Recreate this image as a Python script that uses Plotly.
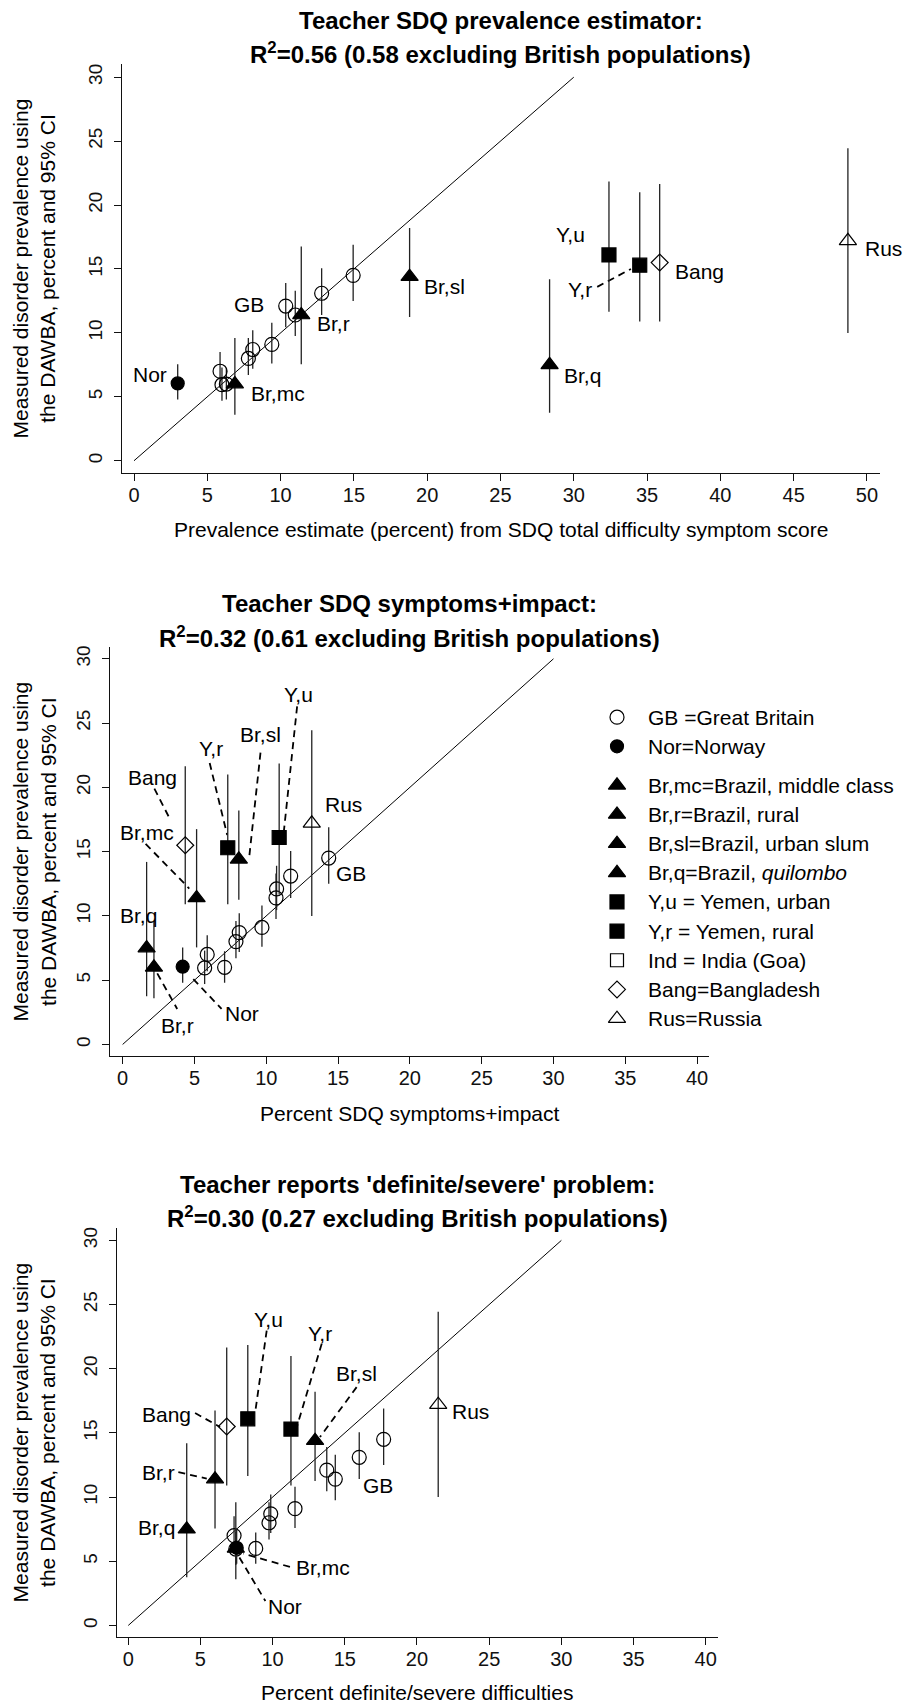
import plotly.graph_objects as go

W, H = 911, 1705
FONT = "Liberation Sans, Arial, Helvetica, sans-serif"

# ---------------- data ----------------
# Non-British populations (same DAWBA prevalence in every panel)
pops = ["Nor", "Br,mc", "Br,r", "Br,sl", "Br,q", "Y,u", "Y,r", "Bang", "Rus"]
pop_y = [6.05, 6.0, 11.4, 14.4, 7.5, 16.1, 15.3, 15.5, 17.2]
pop_lo = [4.8, 3.6, 7.55, 11.25, 3.75, 11.65, 10.9, 10.9, 10.0]
pop_hi = [7.55, 9.6, 16.75, 18.2, 14.2, 21.85, 21.0, 21.65, 24.45]

# British populations
gb_y = [5.95, 6.0, 7.0, 8.0, 8.7, 9.1, 11.4, 12.1, 13.1, 14.5]
gb_lo = [4.7, 4.8, 5.7, 6.7, 7.2, 7.6, 9.75, 10.45, 11.4, 12.5]
gb_hi = [7.3, 7.25, 8.5, 9.6, 10.2, 10.8, 13.3, 13.9, 15.05, 16.9]

# x values per panel
p1_pop_x = [2.98, 6.88, 11.41, 18.8, 28.35, 32.4, 34.5, 35.86, 48.7]
p2_pop_x = [4.18, 2.18, 5.15, 8.09, 1.67, 10.9, 7.32, 4.36, 13.17]
p3_pop_x = [7.51, 7.45, 6.01, 12.94, 4.05, 8.28, 11.27, 6.82, 21.47]
p1_gb_x = [6.0, 6.3, 5.87, 7.8, 8.1, 9.4, 11.0, 10.35, 12.8, 14.95]
p2_gb_x = [5.71, 7.1, 5.89, 7.89, 8.12, 9.7, 10.68, 10.72, 11.7, 14.35]
p3_gb_x = [7.45, 8.83, 7.33, 9.75, 9.87, 11.55, 14.34, 13.75, 16.0, 17.69]

diag = [0, 30]

p1_ticks = [0, 5, 10, 15, 20, 25, 30, 35, 40, 45, 50]
p23_ticks = [0, 5, 10, 15, 20, 25, 30, 35, 40]
y_ticks = [0, 5, 10, 15, 20, 25, 30]

titles1 = ["Teacher SDQ prevalence estimator:",
           "Teacher SDQ symptoms+impact:",
           "Teacher reports 'definite/severe' problem:"]
titles2 = ["R<sup>2</sup>=0.56 (0.58 excluding British populations)",
           "R<sup>2</sup>=0.32 (0.61 excluding British populations)",
           "R<sup>2</sup>=0.30 (0.27 excluding British populations)"]
xtitles = ["Prevalence estimate (percent) from SDQ total difficulty symptom score",
           "Percent SDQ symptoms+impact",
           "Percent definite/severe difficulties"]
ytitle = "Measured disorder prevalence using<br>the DAWBA, percent and 95% CI"

# point labels: (text, x, y, anchor)
p1_labels = [("GB", 7.87, 12.24, "center"), ("Br,r", 13.6, 10.75, "center"),
             ("Br,sl", 21.15, 13.6, "center"), ("Nor", 1.11, 6.77, "center"),
             ("Br,mc", 9.82, 5.28, "center"), ("Y,u", 29.8, 17.66, "center"),
             ("Y,r", 30.4, 13.4, "center"), ("Bang", 38.6, 14.8, "center"),
             ("Br,q", 30.6, 6.66, "center"), ("Rus", 49.7, 16.6, "left")]
p2_labels = [("Bang", 2.09, 20.8, "center"), ("Br,mc", 1.68, 16.5, "center"),
             ("Br,q", 1.11, 10.0, "center"), ("Y,r", 6.15, 23.0, "center"),
             ("Br,sl", 9.63, 24.1, "center"), ("Y,u", 12.23, 27.2, "center"),
             ("Rus", 15.4, 18.7, "center"), ("GB", 15.9, 13.3, "center"),
             ("Nor", 8.33, 2.41, "center"), ("Br,r", 3.8, 1.51, "center")]
p3_labels = [("Y,u", 9.7, 23.8, "center"), ("Y,r", 13.28, 22.77, "center"),
             ("Br,sl", 15.82, 19.6, "center"), ("Bang", 2.62, 16.42, "center"),
             ("Br,r", 2.08, 11.95, "center"), ("Br,q", 1.97, 7.67, "center"),
             ("GB", 17.28, 10.92, "center"), ("Br,mc", 13.47, 4.51, "center"),
             ("Nor", 10.86, 1.46, "center"), ("Rus", 23.73, 16.68, "center")]

# dashed leader lines: (x0, y0, x1, y1)
p1_leaders = [(31.6, 13.6, 33.9, 15.0)]
p2_leaders = [(2.21, 19.9, 3.22, 17.7), (1.6, 15.6, 4.64, 12.13),
              (6.06, 21.9, 7.28, 16.3), (9.6, 22.7, 8.82, 14.64),
              (12.15, 26.3, 11.2, 16.3), (4.92, 5.09, 6.89, 2.76),
              (2.41, 5.53, 3.8, 2.76)]
p3_leaders = [(9.59, 22.98, 8.78, 16.5), (13.4, 21.95, 11.67, 15.45),
              (15.82, 18.57, 13.28, 14.68), (4.63, 16.55, 6.36, 15.46),
              (3.47, 11.95, 5.44, 11.44), (11.2, 4.56, 7.97, 5.6),
              (7.7, 5.3, 9.5, 1.9)]

legend_text = ["GB =Great Britain", "Nor=Norway", "Br,mc=Brazil, middle class",
               "Br,r=Brazil, rural", "Br,sl=Brazil, urban slum",
               "Br,q=Brazil, <i>quilombo</i>", "Y,u = Yemen, urban",
               "Y,r = Yemen, rural", "Ind = India (Goa)", "Bang=Bangladesh",
               "Rus=Russia"]

# ---------------- styles / layout geometry ----------------
pop_symbol = ["circle", "triangle-up", "triangle-up", "triangle-up", "triangle-up",
              "square", "square", "diamond-open", "triangle-up-open"]
pop_size = [13, 15, 15, 15, 15, 14, 14, 13, 15]
legend_symbol = ["circle-open", "circle", "triangle-up", "triangle-up", "triangle-up",
                 "triangle-up", "square", "square", "square-open", "diamond-open",
                 "triangle-up-open"]
legend_size = [14, 13, 15, 15, 15, 15, 14, 14, 13, 13, 15]

# panel plot regions in pixels (left, right, top, bottom) and axis ranges
panels = [
    dict(l=121.7, r=880.0, t=61.7, b=471.7, xr=[-0.84, 50.89], yr=[-0.97, 31.06],
         ticks=p1_ticks, gbx=p1_gb_x, px=p1_pop_x, labels=p1_labels,
         leaders=p1_leaders, xt_off=56),
    dict(l=110.0, r=709.0, t=646.0, b=1055.0, xr=[-0.88, 40.83], yr=[-0.88, 30.9],
         ticks=p23_ticks, gbx=p2_gb_x, px=p2_pop_x, labels=p2_labels,
         leaders=p2_leaders, xt_off=58),
    dict(l=116.7, r=718.0, t=1227.0, b=1637.3, xr=[-0.8, 40.85], yr=[-0.93, 31.0],
         ticks=p23_ticks, gbx=p3_gb_x, px=p3_pop_x, labels=p3_labels,
         leaders=p3_leaders, xt_off=55),
]

def px(x):
    return x / W

def py(y):
    return 1 - y / H

fig = go.Figure()
annotations = []
layout_axes = {}

for i, p in enumerate(panels):
    n = i + 1
    xa = "x" if n == 1 else f"x{n}"
    ya = "y" if n == 1 else f"y{n}"
    xkey = "xaxis" if n == 1 else f"xaxis{n}"
    ykey = "yaxis" if n == 1 else f"yaxis{n}"
    layout_axes[xkey] = dict(
        domain=[px(p["l"]), px(p["r"])], range=p["xr"], anchor=ya,
        showline=True, linecolor="#111", linewidth=1, mirror=False,
        ticks="outside", ticklen=7, tickwidth=1, tickcolor="#111",
        tickvals=p["ticks"], showgrid=False, zeroline=False, ticklabelstandoff=-3,
        tickfont=dict(family=FONT, size=20, color="#111"), fixedrange=True)
    layout_axes[ykey] = dict(
        domain=[py(p["b"]), py(p["t"])], range=p["yr"], anchor=xa,
        showline=True, linecolor="#111", linewidth=1, mirror=False,
        ticks="outside", ticklen=7, tickwidth=1, tickcolor="#111",
        tickvals=y_ticks, tickangle=-90, showgrid=False, zeroline=False,
        ticklabelstandoff=4,
        tickfont=dict(family=FONT, size=19, color="#111"), fixedrange=True)

    # identity line
    fig.add_trace(go.Scatter(x=diag, y=diag, mode="lines", xaxis=xa, yaxis=ya,
                             line=dict(color="black", width=1), hoverinfo="skip",
                             showlegend=False))
    # leader lines
    for (x0, y0, x1, y1) in p["leaders"]:
        fig.add_trace(go.Scatter(x=[x0, x1], y=[y0, y1], mode="lines", xaxis=xa, yaxis=ya,
                                 line=dict(color="black", width=1.8, dash="7px,5px"),
                                 hoverinfo="skip", showlegend=False))
    # British populations
    fig.add_trace(go.Scatter(
        x=p["gbx"], y=gb_y, mode="markers", xaxis=xa, yaxis=ya, showlegend=False,
        marker=dict(symbol="circle-open", size=14, color="black", line=dict(width=1.2)),
        error_y=dict(type="data", symmetric=False,
                     array=[h - v for h, v in zip(gb_hi, gb_y)],
                     arrayminus=[v - l for v, l in zip(gb_y, gb_lo)],
                     width=0, thickness=1.3, color="#222")))
    # other populations
    fig.add_trace(go.Scatter(
        x=p["px"], y=pop_y, mode="markers", xaxis=xa, yaxis=ya, showlegend=False,
        text=pops,
        marker=dict(symbol=pop_symbol, size=pop_size, color="black", opacity=1,
                    line=dict(width=1.2, color="black")),
        error_y=dict(type="data", symmetric=False,
                     array=[h - v for h, v in zip(pop_hi, pop_y)],
                     arrayminus=[v - l for v, l in zip(pop_y, pop_lo)],
                     width=0, thickness=1.3, color="#222")))
    # point labels
    for (t, lx, ly, anc) in p["labels"]:
        annotations.append(dict(text=t, x=lx, y=ly, xref=xa, yref=ya, showarrow=False,
                                xanchor=anc, yanchor="middle",
                                font=dict(family=FONT, size=21, color="black")))
    cx = (p["l"] + p["r"]) / 2
    cy = (p["t"] + p["b"]) / 2
    # titles
    annotations.append(dict(text="<b>" + titles1[i] + "</b>", x=px(cx), y=py(p["t"] - 43.5),
                            xref="paper", yref="paper", showarrow=False,
                            xanchor="center", yanchor="middle",
                            font=dict(family=FONT, size=24, color="black")))
    annotations.append(dict(text="<b>" + titles2[i] + "</b>", x=px(cx), y=py(p["t"] - 10.5),
                            xref="paper", yref="paper", showarrow=False,
                            xanchor="center", yanchor="middle",
                            font=dict(family=FONT, size=24, color="black")))
    # x axis title
    annotations.append(dict(text=xtitles[i], x=px(cx), y=py(p["b"] + p["xt_off"]),
                            xref="paper", yref="paper", showarrow=False,
                            xanchor="center", yanchor="middle",
                            font=dict(family=FONT, size=21, color="black")))
    # y axis title
    annotations.append(dict(text=ytitle, x=px(34), y=py(cy), textangle=-90,
                            xref="paper", yref="paper", showarrow=False,
                            xanchor="center", yanchor="middle",
                            font=dict(family=FONT, size=21, color="black")))

# legend drawn on a pixel-mapped overlay axis
leg_x0 = 617
leg_y0 = 716
leg_step = 29.2
leg_gap = 9.8
leg_y = [leg_y0 + k * leg_step + (leg_gap if k >= 2 else 0) for k in range(len(legend_text))]
layout_axes["xaxis4"] = dict(domain=[0, 1], range=[0, W], visible=False, fixedrange=True)
layout_axes["yaxis4"] = dict(domain=[0, 1], range=[H, 0], visible=False, fixedrange=True,
                             anchor="x4")
fig.add_trace(go.Scatter(
    x=[leg_x0] * len(legend_text), y=leg_y, mode="markers", xaxis="x4", yaxis="y4",
    showlegend=False, hoverinfo="skip",
    marker=dict(symbol=legend_symbol, size=legend_size, color="black", opacity=1,
                line=dict(width=1.2, color="black"))))
for k, t in enumerate(legend_text):
    annotations.append(dict(text=t, x=leg_x0 + 29, y=leg_y[k], xref="x4", yref="y4",
                            showarrow=False, xanchor="left", yanchor="middle",
                            font=dict(family=FONT, size=21, color="black")))

fig.update_layout(
    width=W, height=H, margin=dict(l=0, r=0, t=0, b=0),
    paper_bgcolor="white", plot_bgcolor="rgba(0,0,0,0)",
    showlegend=False, annotations=annotations, **layout_axes)

fig.write_html("out.html", config={"displayModeBar": False},
               post_script="document.body.style.margin='0';")
